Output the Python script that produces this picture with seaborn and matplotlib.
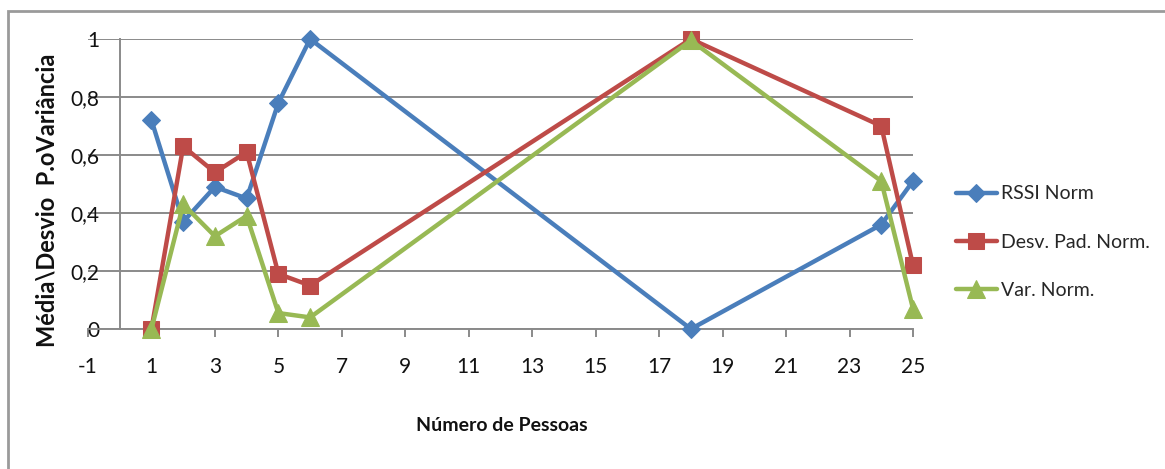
import matplotlib
matplotlib.use("Agg")
import matplotlib.pyplot as plt
import matplotlib.transforms as mtrans
from matplotlib.patches import Rectangle
from matplotlib.ticker import FuncFormatter
import seaborn as sns
import pandas as pd

# Number of people in the room
pessoas = [1, 2, 3, 4, 5, 6, 18, 24, 25]

# Normalised measurements
rssi_norm = [0.72, 0.37, 0.49, 0.45, 0.78, 1.00, 0.00, 0.36, 0.51]
desv_pad_norm = [0.00, 0.63, 0.54, 0.61, 0.19, 0.15, 1.00, 0.70, 0.22]
var_norm = [0.00, 0.43, 0.32, 0.39, 0.055, 0.04, 0.995, 0.51, 0.07]

series_names = ["RSSI Norm", "Desv. Pad. Norm.", "Var. Norm."]
x_ticks = list(range(-1, 26, 2))
y_ticks = [0, 0.2, 0.4, 0.6, 0.8, 1]

colors = ["#4A7EBB", "#BE4B48", "#98B954"]
markers = ["D", "s", "^"]
msizes = [9.5, 11.5, 12.5]

sns.set_theme(style="white")
plt.rcParams["font.family"] = ["Lato", "DejaVu Sans"]
plt.rcParams["axes.unicode_minus"] = False

W, H = 1165, 469
fig = plt.figure(figsize=(W / 100, H / 100), dpi=100)
fig.patch.set_facecolor("white")

# chart border (runs off the right and bottom edges)
fig.add_artist(Rectangle((8 / W, -0.1), 1.2, (H - 11) / H + 0.1,
                         transform=fig.transFigure, fill=False,
                         edgecolor="#9a9a9a", linewidth=2))

ax = fig.add_axes([88 / W, (H - 329) / H, (913 - 88) / W, 290 / H])

df = pd.DataFrame({"x": pessoas * 3,
                   "y": rssi_norm + desv_pad_norm + var_norm,
                   "serie": sum([[n] * len(pessoas) for n in series_names], [])})

for name, c, m, ms in zip(series_names, colors, markers, msizes):
    sub = df[df["serie"] == name]
    sns.lineplot(data=sub, x="x", y="y", ax=ax, color=c, marker=m,
                 markersize=ms, markeredgecolor=c, linewidth=3.2,
                 label=name, clip_on=False, zorder=3)

ax.set_xlim(-1, 25)
ax.set_ylim(0, 1)
ax.set_xticks(x_ticks)
ax.set_yticks(y_ticks)
ax.yaxis.set_major_formatter(FuncFormatter(
    lambda v, p: ("%g" % v).replace(".", ",")))

ax.grid(axis="y", color="#8a8a8a", linewidth=1.4)
ax.grid(axis="x", visible=False)
for s in ["top", "right"]:
    ax.spines[s].set_visible(False)
ax.spines["left"].set_position(("data", 0))
ax.spines["left"].set_color("#8a8a8a")
ax.spines["left"].set_linewidth(1.4)
ax.spines["bottom"].set_color("#8a8a8a")
ax.spines["bottom"].set_linewidth(1.4)
ax.spines["left"].set_zorder(1)

ax.tick_params(axis="x", which="major", bottom=True, length=6, width=1.4,
               color="#8a8a8a", pad=14, labelsize=15, labelcolor="#111111")
ax.tick_params(axis="y", which="major", left=False, length=0,
               pad=0, labelsize=15, labelcolor="#111111")
# y tick labels sit just left of the plot edge
offset = mtrans.ScaledTranslation(-(121 - 101) / 100, 0, fig.dpi_scale_trans)
for lab in ax.get_yticklabels():
    lab.set_horizontalalignment("right")
    lab.set_transform(lab.get_transform() + offset)

ax.set_xlabel("")
ax.set_ylabel("")
fig.text(502 / W, 1 - 425 / H, "Número de Pessoas", ha="center", va="center",
         fontsize=14, fontweight="bold", color="#111111")
fig.text(47 / W, 1 - 200 / H, "Média\\Desvio  P.oVariância", ha="center",
         va="center", rotation=90, fontsize=17, fontweight="bold",
         color="#111111")

ax.legend_.remove()
handles, labels = ax.get_legend_handles_labels()
fig.legend(handles, labels, loc="center left",
           bbox_to_anchor=(956 / W, 1 - 242 / H), frameon=False,
           fontsize=14, handlelength=2.1, handletextpad=0.2,
           labelspacing=1.6, borderaxespad=0, borderpad=0)

fig.savefig("out.png", dpi=100, facecolor="white")
